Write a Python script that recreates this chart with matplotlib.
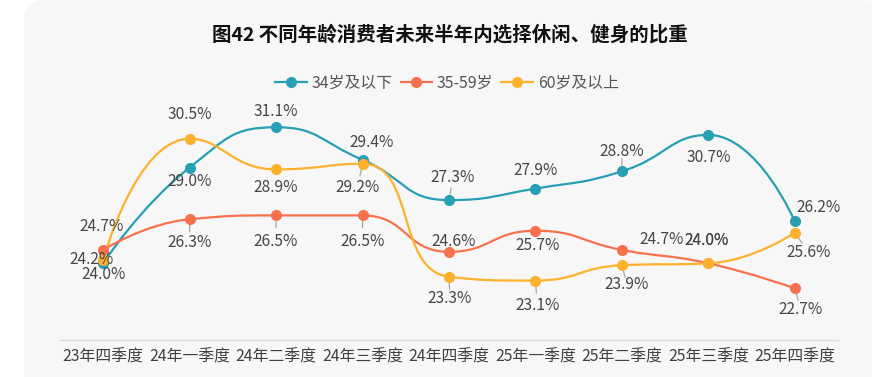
import numpy as np
import matplotlib
matplotlib.use("Agg")
import matplotlib.pyplot as plt
from matplotlib.path import Path
from matplotlib.patches import PathPatch, FancyBboxPatch
from matplotlib.lines import Line2D

plt.rcParams['font.family'] = ['Noto Sans CJK SC', 'DejaVu Sans']

# data
quarters = ['23年四季度', '24年一季度', '24年二季度', '24年三季度', '24年四季度',
            '25年一季度', '25年二季度', '25年三季度', '25年四季度']
series_names = ['34岁及以下', '35-59岁', '60岁及以上']
young = [24.0, 29.0, 31.1, 29.4, 27.3, 27.9, 28.8, 30.7, 26.2]
middle = [24.7, 26.3, 26.5, 26.5, 24.6, 25.7, 24.7, 24.0, 22.7]
old = [24.2, 30.5, 28.9, 29.2, 23.3, 23.1, 23.9, 24.0, 25.6]
title = '图42 不同年龄消费者未来半年内选择休闲、健身的比重'

colors = ['#279fb5', '#f7714f', '#fdb12d']

# label offsets in pixels (dx right, dy down) and whether a leader line is drawn
label_pos = [
    [(0, 11), (0, 14), (0, -16), (9, -17), (4, -23), (0, -18), (0, -20), (0, 23), (24, -14)],
    [(-2, -23), (0, 23), (0, 26), (0, 26), (5, -10), (2, 15), (40, -10), (-2, -23), (6, 21)],
    [(-12, 0), (0, -24), (0, 18), (-5, 24), (1, 22), (2, 25), (5, 19), (-2, -23), (14, 20)],
]
leaders = [
    [0, 0, 0, 0, 1, 0, 1, 0, 0],
    [0, 1, 1, 1, 0, 0, 0, 0, 1],
    [0, 0, 0, 1, 1, 1, 1, 0, 1],
]

W, H = 872, 377
PX_X, PX_Y = 86.4, 19.15  # pixel scale used for the smoothing


def smooth_path(xs, ys, smooth=0.5):
    # echarts-style bezier smoothing (component-wise clamping), in pixel-ish space
    P = np.column_stack([np.asarray(xs, float) * PX_X, np.asarray(ys, float) * PX_Y])
    n = len(P)
    cin = P.copy()
    cout = P.copy()
    for i in range(1, n - 1):
        prev, cur, nxt = P[i - 1], P[i], P[i + 1]
        v = nxt - prev
        d0 = np.linalg.norm(cur - prev)
        d1 = np.linalg.norm(nxt - cur)
        r = d1 / (d0 + d1)
        c_out = cur + v * smooth * r
        c_out = np.minimum(c_out, np.maximum(nxt, cur))
        c_out = np.maximum(c_out, np.minimum(nxt, cur))
        c_in = cur - (c_out - cur) * d0 / d1
        c_in = np.minimum(c_in, np.maximum(prev, cur))
        c_in = np.maximum(c_in, np.minimum(prev, cur))
        c_out = cur + (cur - c_in) * d1 / d0
        cin[i] = c_in
        cout[i] = c_out
    verts = [P[0]]
    codes = [Path.MOVETO]
    for i in range(n - 1):
        verts += [cout[i], cin[i + 1], P[i + 1]]
        codes += [Path.CURVE4] * 3
    verts = np.array(verts) / [PX_X, PX_Y]
    return Path(verts, codes)


fig = plt.figure(figsize=(W / 100, H / 100), dpi=100)
fig.patch.set_facecolor('white')
card = FancyBboxPatch((24, -40), 860, H + 40, boxstyle='round,pad=0,rounding_size=22',
                      transform=None, facecolor='#f7f7f7', edgecolor='none', zorder=-10)
fig.add_artist(card)

ax = fig.add_axes([60 / W, 37 / H, 778 / W, 230 / H])
ax.set_facecolor('none')
ax.set_xlim(-0.5, 8.5)
ax.set_ylim(20, 32)

x = np.arange(len(quarters))
handles = []
for k, vals in enumerate([young, middle, old]):
    c = colors[k]
    ax.add_patch(PathPatch(smooth_path(x, vals), facecolor='none', edgecolor=c,
                           lw=1.6, zorder=2 + k * 0.1))
    ax.plot(x, vals, 'o', color=c, markersize=8, zorder=4, markeredgewidth=0)
    for i, v in enumerate(vals):
        dx, dy = label_pos[k][i]
        ax.annotate(f'{v:.1f}%', (i, v), xytext=(dx * 0.72, -dy * 0.72),
                    textcoords='offset points', ha='center', va='center',
                    fontsize=11.2, color='#464646', zorder=6)
        if leaders[k][i]:
            ang = np.arctan2(-dy, dx)
            r0, r1 = 5.5, 12.5
            ax.annotate('', xy=(i, v), xytext=(np.cos(ang) * r1 * 0.72, np.sin(ang) * r1 * 0.72),
                        textcoords='offset points',
                        arrowprops=dict(arrowstyle='-', color='#a8a8a8', lw=0.9,
                                        shrinkA=0, shrinkB=r0 * 0.72),
                        zorder=3)
    handles.append(Line2D([0], [0], color=c, lw=1.6, marker='o', markersize=8,
                          markeredgewidth=0))

for s in ['top', 'left', 'right']:
    ax.spines[s].set_visible(False)
ax.spines['bottom'].set_color('#dcdcdc')
ax.spines['bottom'].set_linewidth(1)
ax.set_yticks([])
ax.set_xticks(x)
ax.set_xticklabels(quarters, fontsize=11.4, color='#404040')
ax.tick_params(axis='x', length=0, pad=6)

fig.text(450 / W, 1 - 35 / H, title, ha='center', va='center', fontsize=14,
         fontweight='bold', color='#111111')
fig.legend(handles, series_names, loc='center', bbox_to_anchor=(447 / W, 1 - 83 / H),
           ncol=3, frameon=False, fontsize=11.4, labelcolor='#555555',
           handlelength=2.0, handletextpad=0.3, columnspacing=0.5)

fig.savefig('out.png', dpi=100)
